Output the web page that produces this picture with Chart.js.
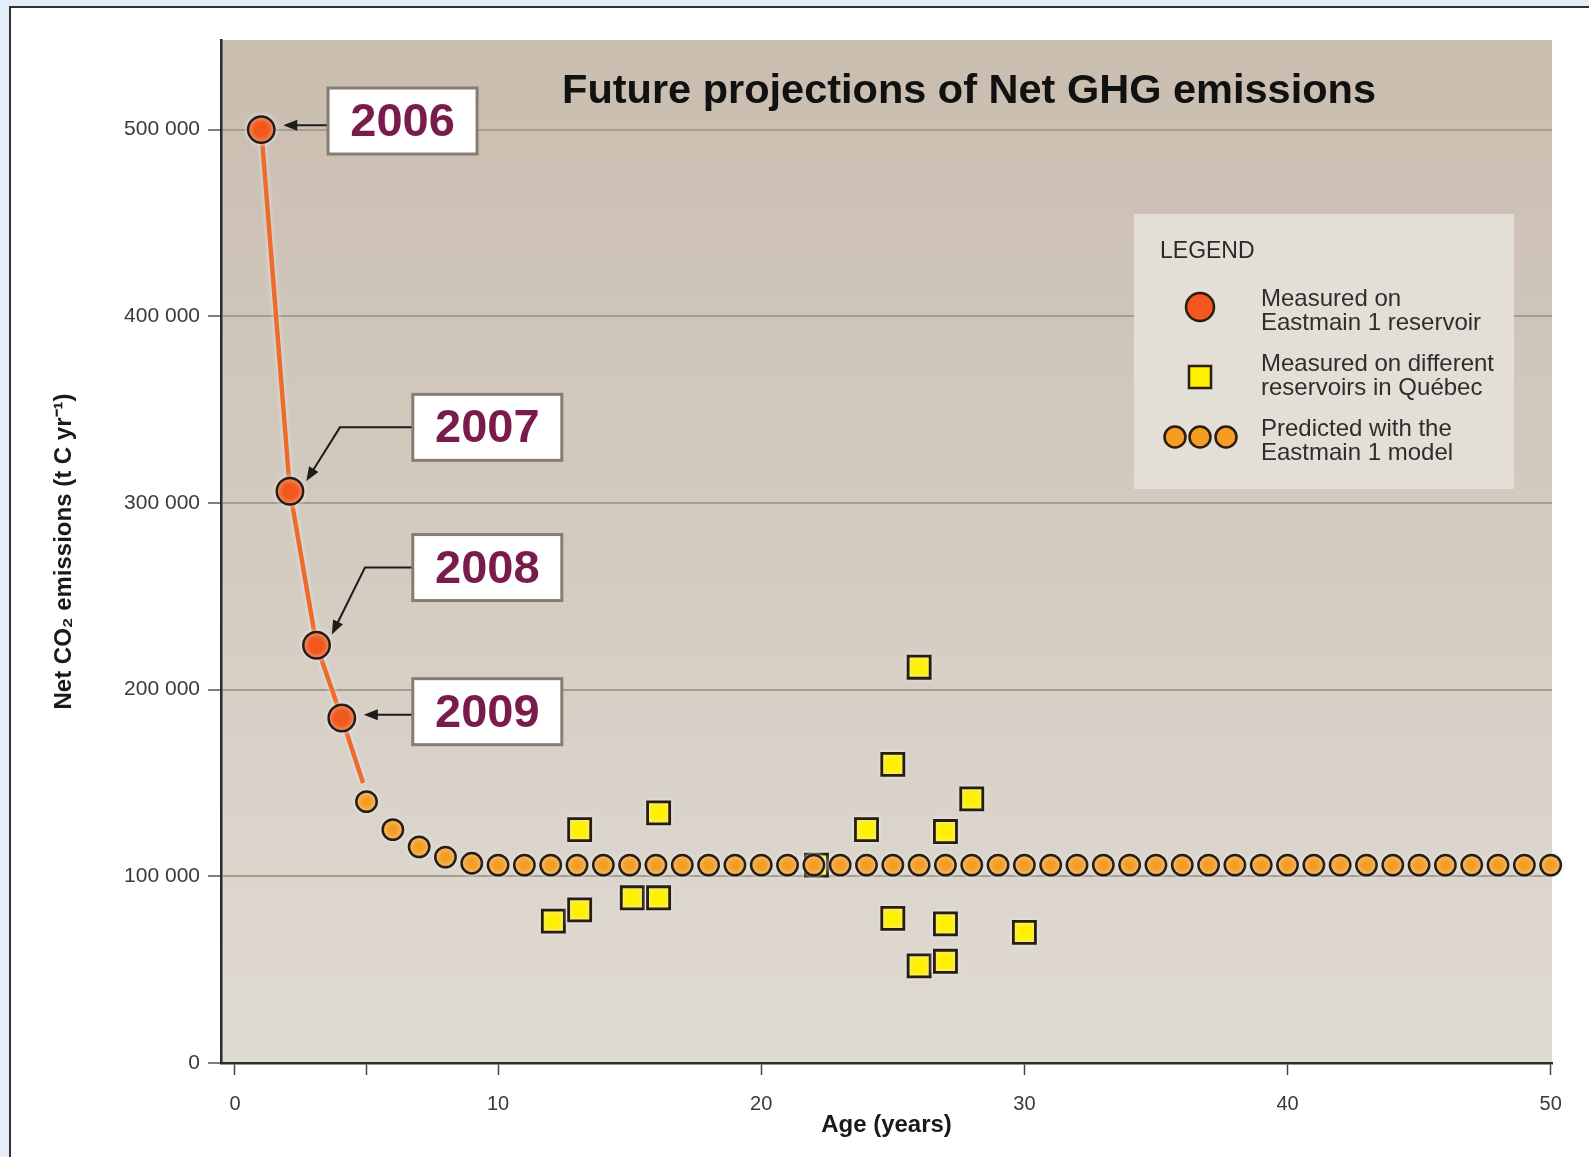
<!DOCTYPE html>
<html>
<head>
<meta charset="utf-8">
<title>Future projections of Net GHG emissions</title>
<script src="https://cdn.jsdelivr.net/npm/chart.js@4.4.0/dist/chart.umd.min.js"></script>
<style>
    html, body { margin: 0; padding: 0; background: #e3eef8; overflow: hidden; }
    #frame { position: absolute; left: 9px; top: 6px; width: 1700px; height: 1300px; background: #fff;
             border-top: 2px solid #333; border-left: 2px solid #333; }
    #wrap { position: absolute; left: 0; top: 0; width: 1589px; height: 1157px; }
</style>
</head>
<body>
<div id="frame"></div>
<div id="wrap"><canvas id="ghg-chart" width="1589" height="1157"></canvas></div>
<script>
// measured on Eastmain 1 reservoir
var measuredAge = [1, 2.09, 3.1, 4.06];
var measuredValue = [500000, 306300, 223800, 184800];
var measuredYear = ["2006", "2007", "2008", "2009"];

// orange curve through the measured years
var curveAge = [1, 2.09, 3.1, 4.06, 4.87];
var curveValue = [500000, 306300, 223800, 184800, 150000];

// measured on different reservoirs in Quebec
var quebecAge = [12.1, 13.1, 13.1, 15.1, 16.1, 16.1, 22.1, 24, 25, 25, 26, 26, 27, 27, 27, 28, 30];
var quebecValue = [76000, 125000, 82000, 88500, 134000, 88500, 106000, 125000, 160000, 77500,
                   212000, 52000, 124000, 74500, 54500, 141500, 70000];

// predicted with the Eastmain 1 model
var predictedAge = [5, 6, 7, 8, 9, 10, 11, 12, 13, 14, 15, 16, 17, 18, 19, 20, 21, 22, 23, 24, 25,
                    26, 27, 28, 29, 30, 31, 32, 33, 34, 35, 36, 37, 38, 39, 40, 41, 42, 43, 44, 45,
                    46, 47, 48, 49, 50];
var predictedValue = [140000, 125000, 115800, 110300, 107000, 106000, 106000, 106000, 106000, 106000,
                      106000, 106000, 106000, 106000, 106000, 106000, 106000, 106000, 106000, 106000,
                      106000, 106000, 106000, 106000, 106000, 106000, 106000, 106000, 106000, 106000,
                      106000, 106000, 106000, 106000, 106000, 106000, 106000, 106000, 106000, 106000,
                      106000, 106000, 106000, 106000, 106000, 106000];

var xTickValues = [0, 5, 10, 20, 30, 40, 50];
var xTickLabels = ["0", "", "10", "20", "30", "40", "50"];
var yTickValues = [0, 100000, 200000, 300000, 400000, 500000];
var yTickLabels = ["0", "100 000", "200 000", "300 000", "400 000", "500 000"];

// year call-outs: box centre in data units, elbow of the arrow (null = straight)
var calloutAge = [6.37, 9.59, 9.59, 9.59];
var calloutValue = [504600, 340500, 265400, 188200];
var calloutElbowAge = [null, 3.99, 4.94, null];

var legendTitle = "LEGEND";
var legendLabels = [
    ["Measured on", "Eastmain 1 reservoir"],
    ["Measured on different", "reservoirs in Québec"],
    ["Predicted with the", "Eastmain 1 model"]
];

var FONT = "'Liberation Sans', Arial, Helvetica, sans-serif";
var RED = "#f2581b", ORANGE = "#f59d22", YELLOW = "#fff000", EDGE = "#2a1c10";

function toPoints(xs, ys) {
    return xs.map(function (x, i) { return { x: x, y: ys[i] }; });
}

var plotBackground = {
    id: "plotBackground",
    beforeDraw: function (chart) {
        var a = chart.chartArea, c = chart.ctx;
        var g = c.createLinearGradient(0, a.top, 0, a.bottom);
        g.addColorStop(0, "#c9bdaf");
        g.addColorStop(0.5, "#d4cbc0");
        g.addColorStop(1, "#e0dbd2");
        c.save();
        c.fillStyle = g;
        c.fillRect(a.left, a.top, a.right - a.left, a.bottom - a.top);
        c.restore();
    },
    // soft pale halo round the marks, as in the original artwork
    beforeDatasetsDraw: function (chart) {
        var c = chart.ctx;
        c.save();
        c.shadowColor = "rgba(228,238,250,0.85)";
        c.shadowBlur = 5;
    },
    afterDatasetsDraw: function (chart) {
        chart.ctx.restore();
    }
};

function arrowHead(c, fromX, fromY, toX, toY) {
    var ang = Math.atan2(toY - fromY, toX - fromX);
    c.beginPath();
    c.moveTo(toX, toY);
    c.lineTo(toX - 14 * Math.cos(ang) + 5.5 * Math.sin(ang), toY - 14 * Math.sin(ang) - 5.5 * Math.cos(ang));
    c.lineTo(toX - 14 * Math.cos(ang) - 5.5 * Math.sin(ang), toY - 14 * Math.sin(ang) + 5.5 * Math.cos(ang));
    c.closePath();
    c.fill();
}

var decorations = {
    id: "decorations",
    afterDatasetsDraw: function (chart) {
        var c = chart.ctx, a = chart.chartArea;
        var xs = chart.scales.x, ys = chart.scales.y;
        c.save();

        // title inside the plot
        c.fillStyle = "#111";
        c.font = "bold 41.5px " + FONT;
        c.textAlign = "center";
        c.textBaseline = "middle";
        c.fillText("Future projections of Net GHG emissions", a.left + (a.right - a.left) * 0.562, a.top + 52);

        // legend box
        var lx = a.right - 418, ly = a.top + 174;
        c.fillStyle = "#e3ded6";
        c.fillRect(lx, ly, 380, 275);
        c.fillStyle = "#2a2a2a";
        c.textAlign = "left";
        c.font = "23px " + FONT;
        c.fillText(legendTitle, lx + 26, ly + 38);
        c.font = "24px " + FONT;
        c.fillStyle = "#2e2e2e";
        legendLabels.forEach(function (lines, i) {
            var cy = ly + 97 + i * 65;
            c.fillText(lines[0], lx + 127, cy - 12);
            c.fillText(lines[1], lx + 127, cy + 12);
        });
        c.strokeStyle = EDGE;
        c.lineWidth = 2.5;
        c.fillStyle = RED;
        c.beginPath(); c.arc(lx + 66, ly + 93, 14, 0, Math.PI * 2); c.fill(); c.stroke();
        c.fillStyle = YELLOW;
        c.fillRect(lx + 55, ly + 152, 22, 22); c.strokeRect(lx + 55, ly + 152, 22, 22);
        c.fillStyle = ORANGE;
        [41, 66, 92].forEach(function (dx) {
            c.beginPath(); c.arc(lx + dx, ly + 223, 10.5, 0, Math.PI * 2); c.fill(); c.stroke();
        });

        // year call-outs with arrows
        measuredYear.forEach(function (label, i) {
            var px = xs.getPixelForValue(measuredAge[i]), py = ys.getPixelForValue(measuredValue[i]);
            var bx = xs.getPixelForValue(calloutAge[i]), by = ys.getPixelForValue(calloutValue[i]);
            var left = bx - 74.5;
            c.strokeStyle = "#1c1c1c";
            c.fillStyle = "#1c1c1c";
            c.lineWidth = 2;
            if (calloutElbowAge[i] === null) {
                var ay = (by + py) / 2;
                var tipX = px + 22;
                c.beginPath(); c.moveTo(left, ay); c.lineTo(tipX + 10, ay); c.stroke();
                arrowHead(c, left, ay, tipX, ay);
            } else {
                var ex = xs.getPixelForValue(calloutElbowAge[i]);
                var gx = px + 10;
                var dx = ex - gx, dy = by - py, d = Math.sqrt(dx * dx + dy * dy);
                var tx = gx + dx / d * 12, ty = py + dy / d * 12;
                c.beginPath(); c.moveTo(left, by); c.lineTo(ex, by);
                c.lineTo(tx + dx / d * 10, ty + dy / d * 10); c.stroke();
                arrowHead(c, ex, by, tx, ty);
            }
            c.fillStyle = "#fff";
            c.fillRect(left, by - 33, 149, 66);
            c.strokeStyle = "#877c72";
            c.lineWidth = 3;
            c.strokeRect(left, by - 33, 149, 66);
            c.fillStyle = "#7a1c4b";
            c.font = "bold 47px " + FONT;
            c.textAlign = "center";
            c.fillText(label, bx, by + 2);
        });
        c.restore();
    }
};

var ctx = document.getElementById("ghg-chart").getContext("2d");

new Chart(ctx, {
    type: "scatter",
    data: {
        datasets: [
            {
                label: "curve",
                data: toPoints(curveAge, curveValue),
                showLine: true,
                borderColor: "#ee6b2c",
                borderWidth: 4.5,
                pointRadius: 0,
                order: 4
            },
            {
                label: "Measured on different reservoirs in Québec",
                data: toPoints(quebecAge, quebecValue),
                pointStyle: "rect",
                pointRadius: 15.6,
                backgroundColor: YELLOW,
                borderColor: EDGE,
                borderWidth: 2.8,
                order: 3
            },
            {
                label: "Predicted with the Eastmain 1 model",
                data: toPoints(predictedAge, predictedValue),
                pointRadius: 10.2,
                backgroundColor: ORANGE,
                borderColor: EDGE,
                borderWidth: 2.5,
                clip: false,
                order: 2
            },
            {
                label: "Measured on Eastmain 1 reservoir",
                data: toPoints(measuredAge, measuredValue),
                pointRadius: 13.2,
                backgroundColor: RED,
                borderColor: EDGE,
                borderWidth: 2.5,
                order: 1
            }
        ]
    },
    options: {
        responsive: false,
        animation: false,
        devicePixelRatio: 1,
        layout: { padding: { top: 40, right: 37, left: 0, bottom: 0 } },
        plugins: {
            legend: { display: false },
            tooltip: { enabled: false }
        },
        scales: {
            x: {
                type: "linear",
                min: -0.53,
                max: 50.05,
                afterBuildTicks: function (scale) {
                    scale.ticks = xTickValues.map(function (v) { return { value: v }; });
                },
                afterFit: function (scale) { scale.height = 94; },
                grid: { drawOnChartArea: false, tickLength: 12, tickColor: "#444", tickWidth: 1.5 },
                border: { color: "#2b2b2b", width: 2.5 },
                ticks: {
                    autoSkip: false,
                    maxRotation: 0,
                    padding: 17,
                    color: "#3a3a3a",
                    font: { family: FONT, size: 20 },
                    callback: function (v, i) { return xTickLabels[i]; }
                },
                title: {
                    display: true,
                    text: "Age (years)",
                    color: "#1a1a1a",
                    font: { family: FONT, size: 24, weight: "bold" },
                    padding: { top: 0, bottom: 17 }
                }
            },
            y: {
                min: 0,
                max: 548000,
                afterBuildTicks: function (scale) {
                    scale.ticks = yTickValues.map(function (v) { return { value: v }; });
                },
                afterFit: function (scale) { scale.width = 221; },
                grid: {
                    color: function (c) { return c.tick && c.tick.value === 0 ? "rgba(0,0,0,0)" : "#a69d91"; },
                    lineWidth: 2,
                    tickLength: 13,
                    tickColor: "#555",
                    tickWidth: 1.5
                },
                border: { color: "#2b2b2b", width: 2.5 },
                ticks: {
                    padding: 8,
                    color: "#3a3a3a",
                    font: { family: FONT, size: 21 },
                    callback: function (v, i) { return yTickLabels[i]; }
                },
                title: {
                    display: true,
                    text: "Net CO₂ emissions (t C yr⁻¹)",
                    color: "#1a1a1a",
                    font: { family: FONT, size: 24, weight: "bold" },
                    padding: { top: 50, bottom: 0 }
                }
            }
        }
    },
    plugins: [plotBackground, decorations]
});
</script>
</body>
</html>
